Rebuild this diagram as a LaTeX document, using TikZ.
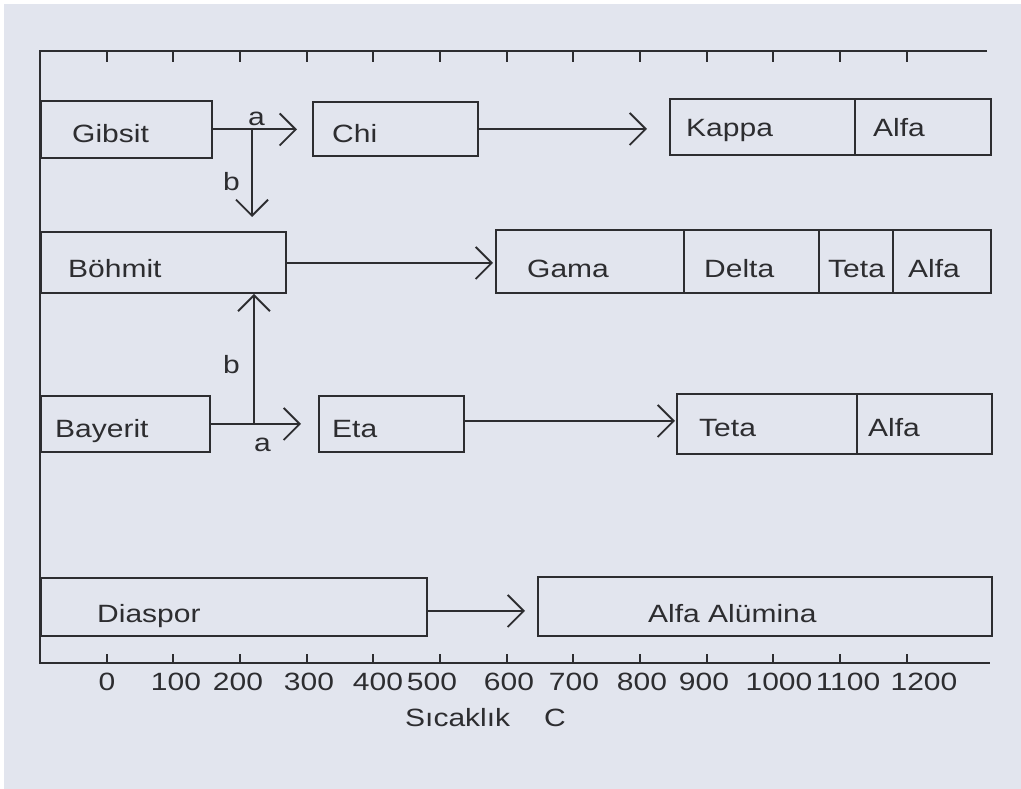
\documentclass[tikz,border=0pt]{standalone}
\usepackage{fontspec}
\setmainfont{Liberation Sans}[FakeStretch=1.2]
\usetikzlibrary{arrows.meta}
\definecolor{bg}{RGB}{226,229,238}
\definecolor{ink}{RGB}{45,45,48}
\begin{document}
\begin{tikzpicture}[x=1pt,y=-1pt,
  box/.style={draw=ink, line width=1.9pt, inner sep=0pt, anchor=north west},
  lbl/.style={text=ink, font=\fontsize{25}{25}\selectfont, inner sep=0pt, anchor=base west},
  num/.style={text=ink, font=\fontsize{25}{25}\selectfont, inner sep=0pt, anchor=base},
  conn/.style={draw=ink, line width=1.9pt, -{Straight Barb[length=16pt,width=32pt,line width=1.9pt]}},
  axis/.style={draw=ink, line width=1.9pt}]
\useasboundingbox (0,0) rectangle (1021,789);
% background
\fill[bg] (-10,-10) rectangle (1031,799);
\fill[white] (-10,-10) rectangle (1031,4);
\fill[white] (-10,-10) rectangle (4,799);
% frame / axes
\draw[axis] (987,51) -- (40,51) -- (40,663) -- (990,663);
\foreach \x in {107,173,240,307,373,440,507,573,640,707,773,840,907}{
  \draw[axis] (\x,51) -- (\x,62);
  \draw[axis] (\x,663) -- (\x,654);
}
% tick labels
\foreach \x/\t in {107/0,176/100,238/200,309/300,378/400,432/500,509/600,574/700,642/800,704/900,779/1000,848/1100,924/1200}{
  \node[num] at (\x,690) {\t};
}
\node[lbl] (sic) at (405,726) {Sıcaklık};
\node[lbl] (cel) at (544,726) {C};
% boxes
\node[box, minimum width=171pt, minimum height=57pt] (gib) at (40,100) {};
\node[box, minimum width=165pt, minimum height=54pt] (chi) at (312,101) {};
\node[box, minimum width=185pt, minimum height=56pt] (kap) at (669,98) {};
\node[box, minimum width=136pt, minimum height=56pt] (kalf) at (854,98) {};
\node[box, minimum width=245pt, minimum height=61pt] (boh) at (40,231) {};
\node[box, minimum width=188pt, minimum height=63pt] (gam) at (495,229) {};
\node[box, minimum width=135pt, minimum height=63pt] (del) at (683,229) {};
\node[box, minimum width=74pt, minimum height=63pt] (gtet) at (818,229) {};
\node[box, minimum width=98pt, minimum height=63pt] (galf) at (892,229) {};
\node[box, minimum width=169pt, minimum height=56pt] (bay) at (40,395) {};
\node[box, minimum width=145pt, minimum height=56pt] (eta) at (318,395) {};
\node[box, minimum width=180pt, minimum height=60pt] (tet) at (676,393) {};
\node[box, minimum width=135pt, minimum height=60pt] (talf) at (856,393) {};
\node[box, minimum width=386pt, minimum height=58pt] (dia) at (40,577) {};
\node[box, minimum width=454pt, minimum height=59pt] (alu) at (537,576) {};
% box texts
\node[lbl] (tgib) at (72,143) {Gibsit};
\node[lbl] (tchi) at (332,143) {Chi};
\node[lbl] (tkap) at (686,137) {Kappa};
\node[lbl] (tkalf) at (873,137) {Alfa};
\node[lbl] (tboh) at (68,277) {Böhmit};
\node[lbl] (tgam) at (527,277) {Gama};
\node[lbl] (tdel) at (704,277) {Delta};
\node[lbl] (tgtet) at (828,277) {Teta};
\node[lbl] (tgalf) at (908,277) {Alfa};
\node[lbl] (tbay) at (55,437) {Bayerit};
\node[lbl] (teta) at (332,437) {Eta};
\node[lbl] (ttet) at (699,436) {Teta};
\node[lbl] (ttalf) at (868,436) {Alfa};
\node[lbl] (tdia) at (97,622) {Diaspor};
\node[lbl] (talu) at (648,622) {Alfa Alümina};
% connectors
\draw[conn, shorten >=15pt] (gib.east) -- (chi.west |- gib.east);
\draw[conn, shorten >=22pt] (chi.east) -- (kap.west |- chi.east);
\draw[conn, shorten >=2pt] (boh.east) ++(0,0.5) coordinate (be) -- (gam.west |- be);
\draw[conn, shorten >=17pt] (bay.east) -- (eta.west |- bay.east);
\draw[conn, shorten >=1pt] (eta.east) ++(0,-3) coordinate (ee) -- (tet.west |- ee);
\draw[conn, shorten >=12pt] (dia.east) ++(0,4) coordinate (de) -- (alu.west |- de);
\coordinate (ga) at (252,128);
\coordinate (ba) at (254,423);
\draw[conn, shorten >=14pt] (ga) -- (ga |- boh.north);
\draw[conn] (ba) -- (ba |- boh.south);
% connector labels
\node[lbl] (la1) at (248,126) {a};
\node[lbl] (lb1) at (223,191) {b};
\node[lbl] (lb2) at (223,373) {b};
\node[lbl] (la2) at (254,451) {a};
\end{tikzpicture}
\end{document}
